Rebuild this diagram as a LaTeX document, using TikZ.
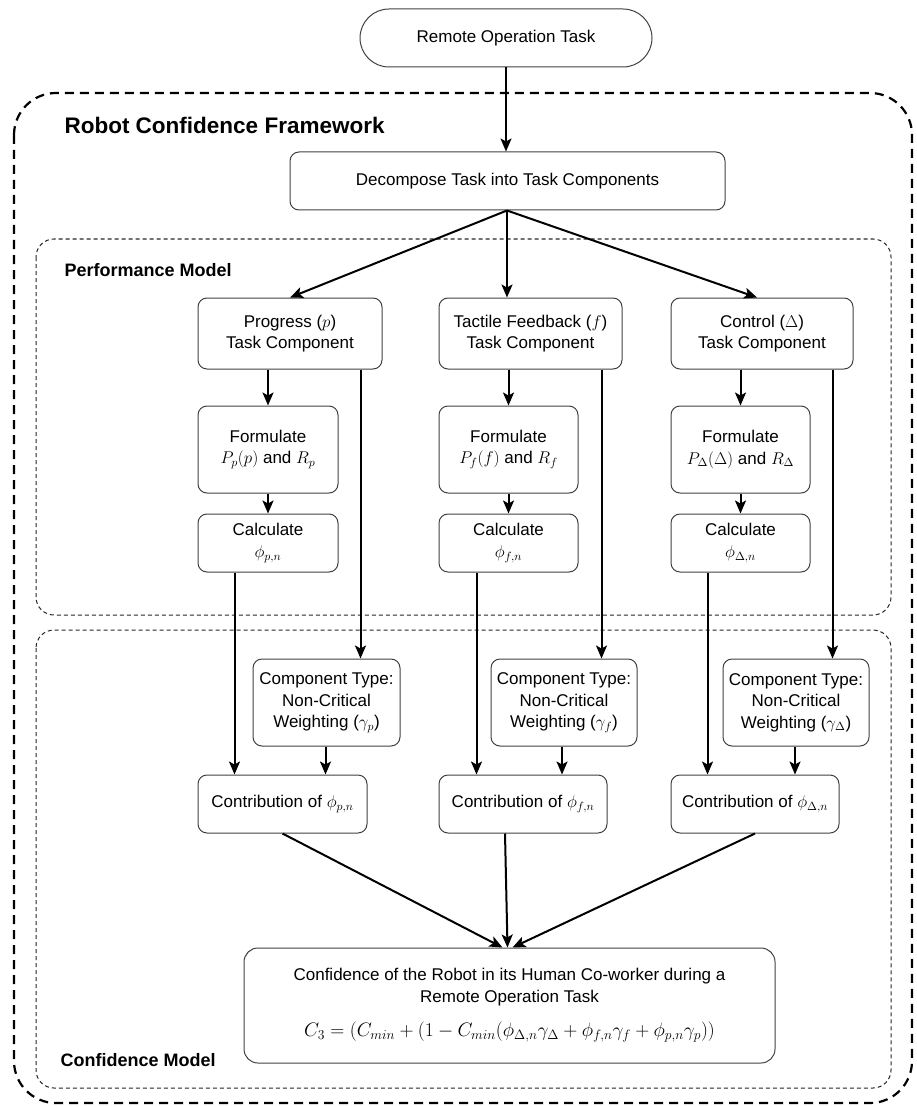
\RequirePackage{fix-cm}
\documentclass[tikz,border=0pt]{standalone}
\usepackage{fontspec}
\setmainfont{Liberation Sans}
\usetikzlibrary{arrows.meta,calc}

\newcommand{\bodyfont}{\fontsize{17}{21.5}\selectfont}
\newcommand{\labelfont}{\fontsize{18}{22}\selectfont\bfseries}
\newcommand{\titlefont}{\fontsize{22.5}{27}\selectfont\bfseries}

\tikzset{
  box/.style={draw=black!75, line width=1pt, rounded corners=9pt, align=center,
              inner sep=0pt, font=\bodyfont},
  arr/.style={line width=2pt, -{Stealth[length=13pt,width=11pt,inset=3pt]}},
  outerframe/.style={line width=2.2pt, dash pattern=on 9pt off 6pt, rounded corners=42pt},
  innerframe/.style={draw=black!85, line width=1pt, dash pattern=on 4pt off 3pt, rounded corners=18pt},
}

\begin{document}
\begin{tikzpicture}[x=1pt, y=-1pt]
\useasboundingbox (0,0) rectangle (916,1107);

% frames
\draw[outerframe] (14,93) rectangle (912,1103);
\draw[innerframe] (36,239) rectangle (891,615);
\draw[innerframe] (36,630) rectangle (891,1088);

\node[font=\titlefont, anchor=west] (fwtitle) at (61,125) {Robot Confidence Framework};
\node[font=\labelfont, anchor=west] (pmlabel) at (61,270) {Performance Model};
\node[font=\labelfont, anchor=west] (cmlabel) at (57,1060) {Confidence Model};

% top of the flow
\node[box, rounded corners=29pt, minimum width=292pt, minimum height=58pt] (remote) at (506,38) {Remote Operation Task};
\node[box, minimum width=435pt, minimum height=58pt] (decomp) at (507.5,181) {Decompose Task into Task Components};

% task components
\node[box, minimum width=184pt, minimum height=71pt] (prog) at (290,333.5) {Progress ($p$)\\Task Component};
\node[box, minimum width=183pt, minimum height=71pt] (tact) at (530.5,333.5) {Tactile Feedback ($f$)\\Task Component};
\node[box, minimum width=182pt, minimum height=71pt] (ctrl) at (762,333.5) {Control ($\Delta$)\\Task Component};

% formulate
\node[box, minimum width=140pt, minimum height=87pt] (formP) at (268,449.5) {Formulate\\$P_p(p)$ and $R_p$};
\node[box, minimum width=139pt, minimum height=87pt] (formF) at (508.5,449.5) {Formulate\\$P_f(f)$ and $R_f$};
\node[box, minimum width=139pt, minimum height=87pt] (formD) at (740.5,449.5) {Formulate\\$P_\Delta(\Delta)$ and $R_\Delta$};

% calculate
\node[box, minimum width=140pt, minimum height=58pt] (calcP) at (268,543) {Calculate\\$\phi_{p,n}$};
\node[box, minimum width=139pt, minimum height=58pt] (calcF) at (508.5,543) {Calculate\\$\phi_{f,n}$};
\node[box, minimum width=139pt, minimum height=58pt] (calcD) at (740.5,543) {Calculate\\$\phi_{\Delta,n}$};

% component type weighting
\node[box, minimum width=147pt, minimum height=87pt] (compP) at (326.5,702.5) {Component Type:\\Non-Critical\\Weighting ($\gamma_p$)};
\node[box, minimum width=146pt, minimum height=87pt] (compF) at (564,702.5) {Component Type:\\Non-Critical\\Weighting ($\gamma_f$)};
\node[box, minimum width=146pt, minimum height=87pt] (compD) at (796,702.5) {Component Type:\\Non-Critical\\Weighting ($\gamma_\Delta$)};

% contributions
\node[box, minimum width=169pt, minimum height=58pt] (contP) at (282.5,804) {Contribution of $\phi_{p,n}$};
\node[box, minimum width=168pt, minimum height=58pt] (contF) at (523,804) {Contribution of $\phi_{f,n}$};
\node[box, minimum width=168pt, minimum height=58pt] (contD) at (755,804) {Contribution of $\phi_{\Delta,n}$};

% overall confidence
\node[box, rounded corners=14pt, minimum width=531pt, minimum height=115pt] (final) at (509.5,1005.5)
  {Confidence of the Robot in its Human Co-worker during a\\Remote Operation Task\\[13pt]
   {\fontsize{19.5}{22}\selectfont $C_3 = \big(C_{min} + (1 - C_{min}(\phi_{\Delta,n}\gamma_\Delta + \phi_{f,n}\gamma_f + \phi_{p,n}\gamma_p))$}};

% connectors
\draw[arr] (remote.south) -- (remote.south |- decomp.north);
\coordinate (dsplit) at ([xshift=-0.5pt]decomp.south);
\draw[arr] (dsplit) -- ([xshift=0pt]prog.north);
\draw[arr] (dsplit) -- (dsplit |- tact.north);
\draw[arr] (dsplit) -- ([xshift=-5pt]ctrl.north);

\foreach \c/\d in {P/prog, F/tact, D/ctrl}{
  \draw[arr] (\d.south -| form\c.north) -- (form\c.north);
  \draw[arr] (form\c.south) -- (calc\c.north);
}
% task component type feeds the weighting boxes
\draw[arr] ([xshift=-22pt]prog.south east) -- ([xshift=-22pt]prog.south east |- compP.north);
\draw[arr] ([xshift=-21pt]tact.south east) -- ([xshift=-21pt]tact.south east |- compF.north);
\draw[arr] ([xshift=-21pt]ctrl.south east) -- ([xshift=-21pt]ctrl.south east |- compD.north);
% calculated values feed the contributions
\draw[arr] ([xshift=37pt]calcP.south west) -- ([xshift=37pt]calcP.south west |- contP.north);
\draw[arr] ([xshift=38pt]calcF.south west) -- ([xshift=38pt]calcF.south west |- contF.north);
\draw[arr] ([xshift=37pt]calcD.south west) -- ([xshift=37pt]calcD.south west |- contD.north);
% weightings feed the contributions
\draw[arr] ([xshift=-1pt]compP.south) -- ([xshift=-1pt]compP.south |- contP.north);
\draw[arr] ([xshift=-2pt]compF.south) -- ([xshift=-2pt]compF.south |- contF.north);
\draw[arr] ([xshift=-1pt]compD.south) -- ([xshift=-1pt]compD.south |- contD.north);
% contributions combine into the overall confidence
\draw[arr] (contP.south) -- ([xshift=-7pt]final.north);
\draw[arr] ([xshift=-18pt]contF.south) -- ([xshift=-2pt]final.north);
\draw[arr] (contD.south) -- ([xshift=3pt]final.north);
\end{tikzpicture}
\end{document}
